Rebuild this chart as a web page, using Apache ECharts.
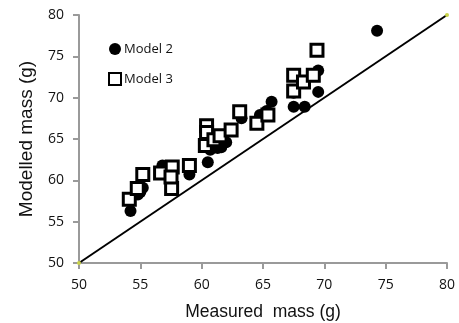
<!DOCTYPE html>
<html><head><meta charset="utf-8">
<script src="https://cdn.jsdelivr.net/npm/echarts@6/dist/echarts.min.js"></script>
<style>html,body{margin:0;padding:0;background:#fff}#c{width:459px;height:323px}</style>
</head><body><div id="c"></div>
<script>
const model2X = [54.2, 54.8, 55.0, 55.2, 56.8, 57.5, 57.5, 59.0, 60.5, 60.7, 61.0, 61.3, 61.6, 62.0, 63.25, 64.5, 64.75, 65.3, 65.7, 67.5, 67.5, 68.4, 69.5, 69.5, 74.3];
const model2Y = [56.3, 58.3, 58.6, 59.1, 61.8, 61.5, 59.7, 60.7, 62.2, 63.7, 64.3, 63.9, 64.0, 64.6, 67.5, 67.1, 67.9, 68.4, 69.5, 70.6, 68.9, 68.9, 70.7, 73.3, 78.1];
const model3X = [54.1, 54.75, 55.2, 56.65, 57.55, 57.6, 57.5, 59.0, 60.3, 60.4, 60.4, 61.0, 61.5, 62.4, 63.1, 64.5, 65.4, 67.5, 67.5, 68.3, 69.1, 69.4];
const model3Y = [57.7, 59.0, 60.7, 60.9, 59.0, 61.6, 60.4, 61.8, 64.2, 66.6, 65.8, 64.9, 65.4, 66.1, 68.3, 66.9, 67.9, 70.8, 72.7, 71.9, 72.7, 75.75];
const lineX = [50, 80];
const lineY = [50, 80];
const xTicks = [50, 55, 60, 65, 70, 75, 80];
const yTicks = [50, 55, 60, 65, 70, 75, 80];

const font = 'Liberation Sans';
const tickFont = 'Open Sans';
const chart = echarts.init(document.getElementById('c'), null, {renderer: 'canvas'});
const axisCommon = {
  min: 50, max: 80, interval: 5,
  axisLine: {show: true, lineStyle: {color: '#9a9a9a', width: 2}},
  axisTick: {show: true, inside: false, length: 6, lineStyle: {color: '#9a9a9a', width: 2}},
  splitLine: {show: false},
  axisLabel: {color: '#111', fontFamily: tickFont, fontSize: 14}
};
chart.setOption({
  animation: false,
  backgroundColor: '#fff',
  grid: {left: 79, right: 12, top: 15, bottom: 60, containLabel: false, outerBoundsMode: 'none'},
  legend: {
    orient: 'vertical', left: 103, top: 35, itemGap: 12,
    itemWidth: 12, itemHeight: 12,
    data: ['Model 2', 'Model 3'],
    textStyle: {fontFamily: tickFont, fontSize: 13, color: '#111', padding: [0, 0, 0, -2], lineHeight: 18}
  },
  xAxis: Object.assign({}, axisCommon, {
    type: 'value',
    name: 'Measured  mass (g)', nameLocation: 'middle', nameGap: 40,
    nameTextStyle: {fontFamily: font, fontSize: 17.5, color: '#111'},
    axisLabel: Object.assign({}, axisCommon.axisLabel, {margin: 15, formatter: v => xTicks.includes(v) ? String(v) : ''})
  }),
  yAxis: Object.assign({}, axisCommon, {
    type: 'value',
    name: 'Modelled mass (g)', nameLocation: 'middle', nameGap: 43,
    nameTextStyle: {fontFamily: font, fontSize: 19, color: '#111'},
    axisLabel: Object.assign({}, axisCommon.axisLabel, {margin: 15, formatter: v => yTicks.includes(v) ? String(v) : ''})
  }),
  series: [
    {
      name: 'line', type: 'line', data: lineX.map((x, i) => [x, lineY[i]]),
      symbol: 'circle', symbolSize: 4, showSymbol: true,
      itemStyle: {color: '#c9d34a'},
      lineStyle: {color: '#000', width: 2}, z: 1
    },
    {
      name: 'Model 2', type: 'scatter', data: model2X.map((x, i) => [x, model2Y[i]]),
      symbol: 'circle', symbolSize: 12,
      itemStyle: {color: '#000', opacity: 1}, z: 3
    },
    {
      name: 'Model 3', type: 'scatter', data: model3X.map((x, i) => [x, model3Y[i]]),
      symbol: 'rect', symbolSize: 12,
      itemStyle: {color: '#fff', borderColor: '#000', borderWidth: 3, opacity: 1}, z: 4
    }
  ]
});
</script></body></html>
